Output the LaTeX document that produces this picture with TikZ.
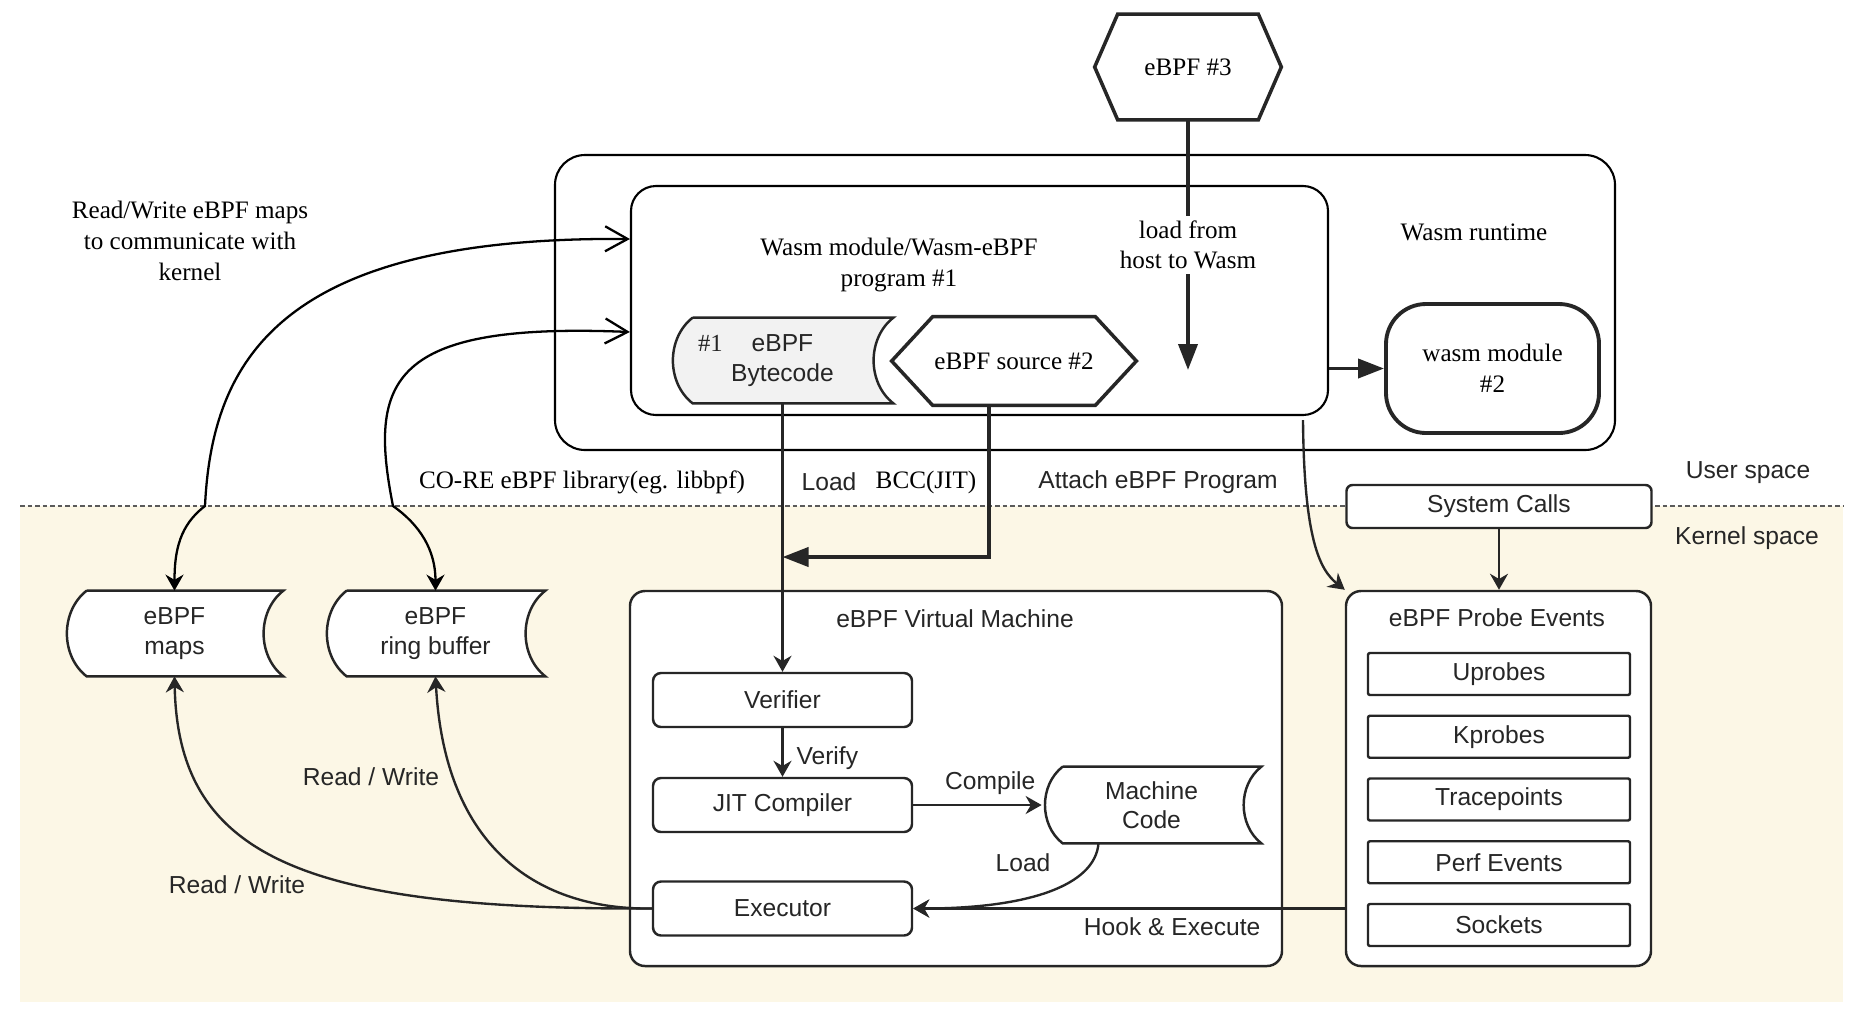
\documentclass[tikz,border=0pt]{standalone}
\usepackage{fontspec}
\setmainfont{Liberation Serif}
\setsansfont{Liberation Sans}
\usepackage{tikz}
\usetikzlibrary{arrows.meta,calc,positioning}
\definecolor{ink}{HTML}{262626}
\definecolor{sand}{HTML}{FCF7E6}
\definecolor{rule}{HTML}{5A5A5A}
\pgfdeclarelayer{bg}
\pgfdeclarelayer{frames}
\pgfdeclarelayer{shapes}
\pgfsetlayers{bg,frames,shapes,main}
\tikzset{
  sans/.style={font=\sffamily\fontsize{14}{16.8}\selectfont,text=ink},
  serif/.style={font=\rmfamily\fontsize{14.3}{17.5}\selectfont,text=black,align=center},
  flow/.style={-{Stealth[length=3.2mm,width=3.6mm]},line width=1.35pt,draw=ink},
  push/.style={-{Triangle[length=5.2mm,width=3.8mm]},line width=2.2pt,draw=ink},
  rw/.style={{Stealth[length=3.2mm,width=3.6mm]}-{Straight Barb[length=4.5mm,width=5mm]},line width=1.3pt,draw=black},
  hexline/.style={draw=ink,line width=2pt,line join=miter},
  storeline/.style={draw=ink,line width=1.4pt},
  shell/.style={draw=black,line width=1.2pt},
  store/.style={sans,align=center,minimum height=17mm,inner sep=0pt},
  group/.style={draw=ink,line width=1.4pt,fill=white,rounded corners=3mm,minimum height=75mm},
  stage/.style={sans,draw=ink,line width=1.4pt,fill=white,rounded corners=1.6mm,minimum width=51.8mm,minimum height=10.8mm},
  probeitem/.style={sans,draw=ink,line width=1.4pt,fill=white,rounded corners=0.4mm,minimum width=52.4mm,minimum height=8.4mm},
  syscall/.style={sans,draw=ink,line width=1.4pt,fill=white,rounded corners=1.2mm,minimum width=61mm,minimum height=8.6mm}
}
% outlines drawn from the anchors of a plain node
\newcommand\hexoutline[2]{\draw[hexline] (#1.west) -- ([xshift=#2]#1.north west) -- ([xshift=-#2]#1.north east) -- (#1.east) -- ([xshift=-#2]#1.south east) -- ([xshift=#2]#1.south west) -- cycle;}
\newcommand\storeoutline[2]{\begin{pgfonlayer}{shapes}
  \draw[storeline,fill=#2] ([xshift=4.2mm]#1.north west) -- (#1.north east) to[bend right=52] (#1.south east) -- ([xshift=4.2mm]#1.south west) to[bend left=52] ([xshift=4.2mm]#1.north west);
\end{pgfonlayer}}

\begin{document}
\begin{tikzpicture}[x=0.2mm,y=0.2mm]
\useasboundingbox (0,0) rectangle (1868,-1034);
\begin{pgfonlayer}{bg}
\fill[white] (0,0) rectangle (1868,-1034);
\fill[sand] (20,-506) rectangle (1843,-1002);
\draw[rule,line width=1.5pt,dash pattern=on 0.9mm off 0.6mm] (20,-506) -- (1843,-506);
\end{pgfonlayer}

% user space
\node[serif,minimum width=37.2mm,minimum height=21mm] (hex3) at (1188,-67) {eBPF \#3};
\hexoutline{hex3}{4.6mm}
\node[shell,minimum width=212mm,minimum height=59mm,rounded corners=6mm] (runtime) at (1085,-302.5) {};
\node[shell,minimum width=139.4mm,minimum height=45.8mm,rounded corners=5mm] (wasmmod) at (979.5,-300.5) {};
\node[serif] (modtitle) at (899,-265) {Wasm module/Wasm-eBPF\\program \#1};
\node[serif] (rttitle) at (1474,-232) {Wasm runtime};
\node[serif,draw=ink,line width=2.2pt,rounded corners=8mm,minimum width=42.6mm,minimum height=25.8mm] (mod2) at (1492.5,-368.5) {wasm module\\\#2};
\node[store,minimum width=44.2mm] (bytecode) at (782.5,-360.5) {\makebox[0pt][r]{\rmfamily\#1\hspace{5.8mm}}eBPF\\Bytecode};
\storeoutline{bytecode}{black!5}
\node[serif,minimum width=48.8mm,minimum height=17.6mm] (src2) at (1014,-361) {eBPF source \#2};
\hexoutline{src2}{8.2mm}
\node[serif] (rwnote) at (190,-241) {Read/Write eBPF maps\\to communicate with\\kernel};

\coordinate (loadend) at (1188,-370);
\coordinate (merge) at (782.5,-557);
\coordinate (attach) at (1303,-420);
\draw[push] (hex3.south) -- node[serif,fill=white,inner sep=1mm] (loadlbl) {load from\\host to Wasm} (loadend);
\draw[push] (wasmmod.east |- mod2.west) -- (mod2.west);
\draw[push] ([xshift=-5mm]src2.south) |- (merge);

\node[serif] (corelbl) at (582,-482) {CO-RE eBPF library(eg. libbpf)};
\node[sans] (loadtxt) at (829,-482) {Load};
\node[serif] (bcclbl) at (926,-482) {BCC(JIT)};
\node[sans] (attachlbl) at (1158,-482) {Attach eBPF Program};
\node[sans] (userlbl) at (1748,-473) {User space};
\node[sans] (kernellbl) at (1747,-538) {Kernel space};

% kernel space
\node[syscall] (syscalls) at (1499,-506.5) {System Calls};
\begin{pgfonlayer}{frames}
\node[group,minimum width=130.4mm] (vm) at (956,-778.5) {};
\node[group,minimum width=61mm] (probe) at (1498.5,-778.5) {};
\end{pgfonlayer}
\node[sans] (vmtitle) at (955,-619) {eBPF Virtual Machine};
\node[sans] (probetitle) at (1497,-618) {eBPF Probe Events};
\node[stage] (verifier) at (782.5,-700) {Verifier};
\node[stage] (jit) at (782.5,-805) {JIT Compiler};
\node[stage] (executor) at (782.5,-908.5) {Executor};
\node[store,minimum width=43.8mm,minimum height=15.2mm] (mcode) at (1151.5,-805) {Machine\\Code};
\storeoutline{mcode}{white}
\node[store,minimum width=43.4mm] (maps) at (174.5,-633.5) {eBPF\\maps};
\storeoutline{maps}{white}
\node[store,minimum width=43.8mm] (ring) at (435.5,-633.5) {eBPF\\ring buffer};
\storeoutline{ring}{white}
\foreach \name/\txt [count=\i] in {uprobes/Uprobes,kprobes/Kprobes,tracepts/Tracepoints,perf/Perf Events,sockets/Sockets}
  \node[probeitem] (\name) at (1499,{-674-62.75*(\i-1)}) {\txt};

\draw[flow] (bytecode.south) -- (verifier.north);
\draw[flow] (verifier.south) -- node[sans,right=1.4mm,pos=0.62] (verifylbl) {Verify} (jit.north);
\draw[flow] (jit.east) -- node[sans,above=0.6mm,pos=0.6] (compilelbl) {Compile} (mcode.west);
\draw[flow] ([xshift=-10.6mm]mcode.south) .. controls (1095,-885) and (1030,-908.5) .. (executor.east);
\node[sans] (mloadlbl) at (1023,-863) {Load};
\draw[flow] (probe.west |- executor.east) -- node[sans,below=0.4mm,pos=0.4] (hooklbl) {Hook \& Execute} (executor.east);
\draw[flow] (syscalls.south) -- (syscalls.south |- probe.north);
\draw[flow] (attach) .. controls (1304,-540) and (1320,-570) .. (probe.north west);

\draw[flow] (executor.west) .. controls (300,-910) and (178,-855) .. (maps.south);
\draw[flow] (executor.west) .. controls (540,-910) and (445,-850) .. (ring.south);
\node[sans] (rwmaps) at (237,-885) {Read / Write};
\node[sans] (rwring) at (371,-777) {Read / Write};

\draw[rw] (maps.north) .. controls (174.5,-550) and (180,-525) .. (205,-506) .. controls (212,-360) and (280,-236) .. ([yshift=12.3mm]wasmmod.west);
\draw[rw] (ring.north) .. controls (435.5,-550) and (420,-525) .. (393,-506) .. controls (368,-380) and (390,-322) .. ([yshift=-6.3mm]wasmmod.west);
\end{tikzpicture}
\end{document}
